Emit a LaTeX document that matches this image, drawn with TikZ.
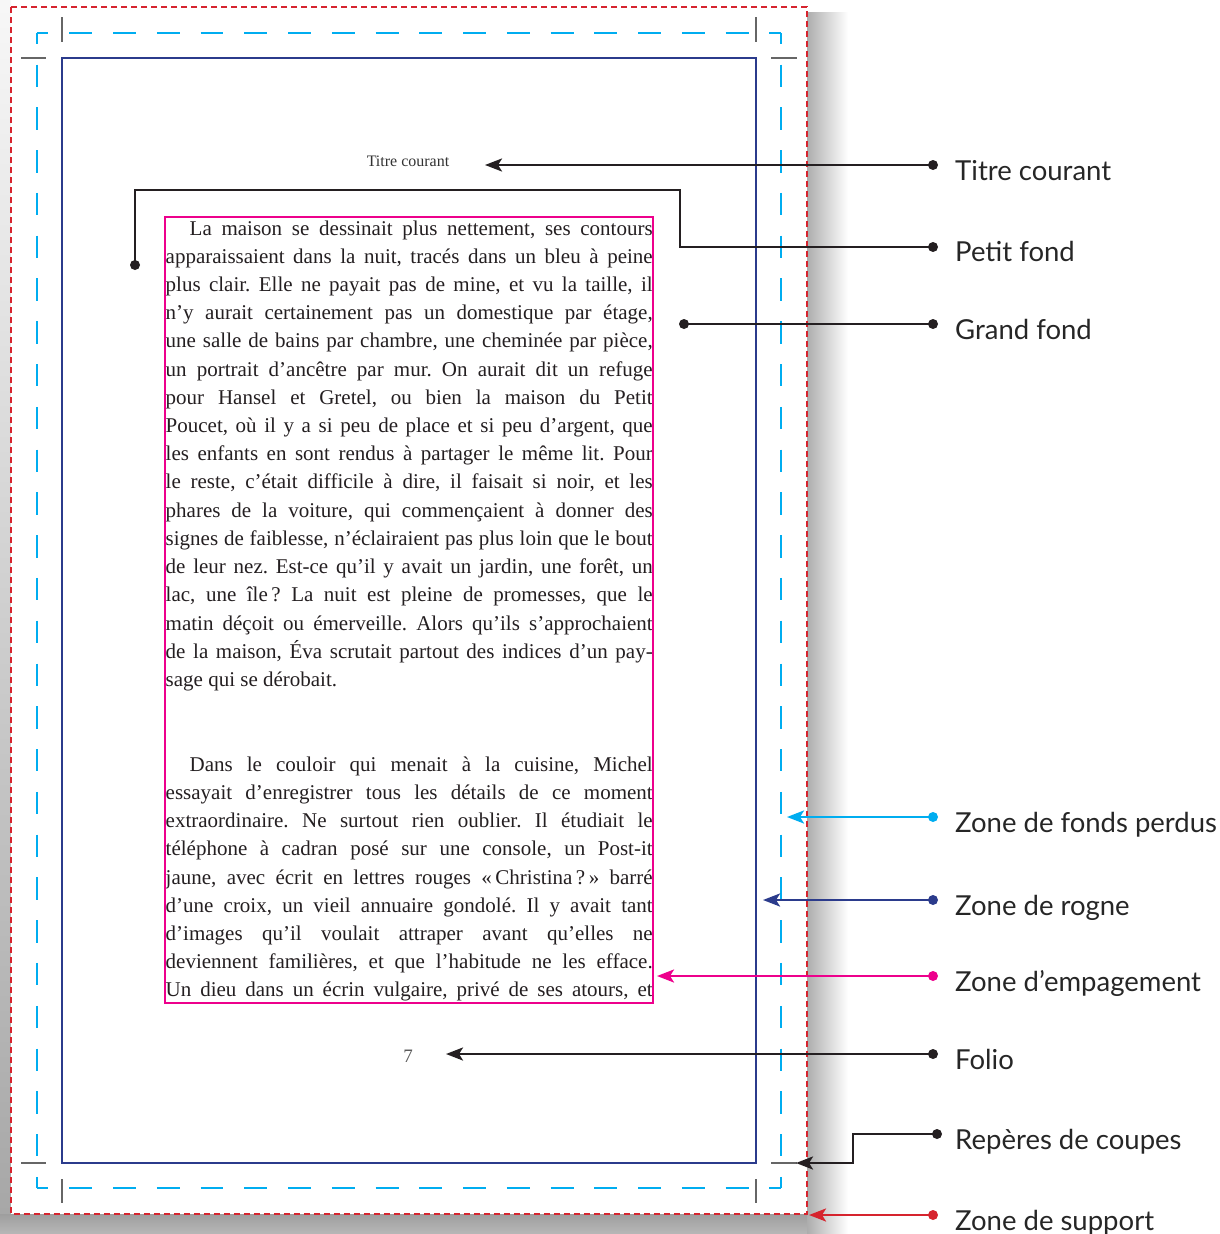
\documentclass[tikz,border=0pt]{standalone}
\usepackage{fontspec}
\setmainfont{Liberation Serif}
\newfontfamily\labelfont{Lato}
\usetikzlibrary{arrows.meta}
\definecolor{cyanperdu}{rgb}{0,0.68,0.94}
\definecolor{bleurogne}{rgb}{0.17,0.23,0.55}
\definecolor{magentaemp}{rgb}{0.93,0,0.55}
\definecolor{rougesupport}{rgb}{0.84,0.14,0.18}
\definecolor{noirtrait}{rgb}{0.14,0.12,0.13}
\definecolor{grisrepere}{rgb}{0.4,0.4,0.4}
\newcommand\jline[1]{\hbox to 487pt{\spaceskip=.25em plus 1fil minus .13em\relax #1}}
\newcommand\lline[1]{\hbox to 487pt{#1\hfil}}
\tikzset{
  trait/.style={line width=2.5pt,color=noirtrait},
  etiquette/.style={anchor=base west,inner sep=0pt,text=black!85,
    font=\labelfont\fontsize{27.5}{33}\selectfont},
  repere/.style={line width=1.3pt,color=grisrepere}
}
\begin{document}
\begin{tikzpicture}[line cap=butt,line join=miter,>={Stealth[length=17pt,width=13pt,inset=4pt]},x=1pt,y=-1pt]
\useasboundingbox (0,0) rectangle (1219,1234);
% ombre de la page
\shade[top color=black!3,bottom color=black!35] (0,0) rectangle (11,1234);
\shade[top color=black!38,bottom color=black!28] (0,1214) rectangle (830,1234);
\shade[left color=black!32,right color=white] (807,12) rectangle (848,1234);
% zone de support
\fill[white] (11,7) rectangle (807,1214);
\draw[rougesupport,line width=2pt,dash pattern=on 6pt off 4pt] (11,7) rectangle (807,1214);
% zone de fonds perdus
\draw[cyanperdu,line width=1.8pt,dash pattern=on 22.9pt off 20.86pt,dash phase=11.45pt] (37,33) -- (781,33);
\draw[cyanperdu,line width=1.8pt,dash pattern=on 22.9pt off 20.86pt,dash phase=11.45pt] (37,1188) -- (781,1188);
\draw[cyanperdu,line width=1.8pt,dash pattern=on 22.4pt off 20.38pt,dash phase=11.2pt] (37,33) -- (37,1188);
\draw[cyanperdu,line width=1.8pt,dash pattern=on 22.4pt off 20.38pt,dash phase=11.2pt] (781,33) -- (781,1188);
% reperes de coupe
\draw[repere] (62,17) -- (62,42);
\draw[repere] (21,58) -- (46,58);
\draw[repere] (756,17) -- (756,42);
\draw[repere] (771,58) -- (797,58);
\draw[repere] (21,1163) -- (46,1163);
\draw[repere] (62,1179) -- (62,1203);
\draw[repere] (771,1163) -- (797,1163);
\draw[repere] (756,1179) -- (756,1203);
% zone de rogne
\draw[bleurogne,line width=2pt] (62,58) rectangle (756,1163);
% texte courant
\node[anchor=base,inner sep=0pt,text=black!80,font=\fontsize{16}{19}\selectfont] (titre) at (408,166) {Titre courant};
\node[anchor=base west,inner sep=0pt,text=noirtrait,font=\fontsize{21}{28.22}\selectfont] (texte) at (165.5,235) {\vtop{\baselineskip=28.22pt\frenchspacing
\jline{\hskip24pt La maison se dessinait plus nettement, ses contours}
\jline{apparaissaient dans la nuit, tracés dans un bleu à peine}
\jline{plus clair. Elle ne payait pas de mine, et vu la taille, il}
\jline{n’y aurait certainement pas un domestique par étage,}
\jline{une salle de bains par chambre, une cheminée par pièce,}
\jline{un portrait d’ancêtre par mur. On aurait dit un refuge}
\jline{pour Hansel et Gretel, ou bien la maison du Petit}
\jline{Poucet, où il y a si peu de place et si peu d’argent, que}
\jline{les enfants en sont rendus à partager le même lit. Pour}
\jline{le reste, c’était difficile à dire, il faisait si noir, et les}
\jline{phares de la voiture, qui commençaient à donner des}
\jline{signes de faiblesse, n’éclairaient pas plus loin que le bout}
\jline{de leur nez. Est-ce qu’il y avait un jardin, une forêt, un}
\jline{lac, une île\,? La nuit est pleine de promesses, que le}
\jline{matin déçoit ou émerveille. Alors qu’ils s’approchaient}
\jline{de la maison, Éva scrutait partout des indices d’un pay-}
\lline{sage qui se dérobait.}
\vskip56.44pt
\jline{\hskip24pt Dans le couloir qui menait à la cuisine, Michel}
\jline{essayait d’enregistrer tous les détails de ce moment}
\jline{extraordinaire. Ne surtout rien oublier. Il étudiait le}
\jline{téléphone à cadran posé sur une console, un Post-it}
\jline{jaune, avec écrit en lettres rouges «\,Christina\,?\,» barré}
\jline{d’une croix, un vieil annuaire gondolé. Il y avait tant}
\jline{d’images qu’il voulait attraper avant qu’elles ne}
\jline{deviennent familières, et que l’habitude ne les efface.}
\jline{Un dieu dans un écrin vulgaire, privé de ses atours, et}}};
\node[anchor=base,inner sep=0pt,text=black!65,font=\fontsize{19}{22}\selectfont] (folio) at (408,1062) {7};
% zone d'empagement
\draw[magentaemp,line width=1.8pt] (165,217) rectangle (653,1003);
% legendes
\coordinate (pTitre) at (933,165);
\coordinate (aTitre) at (485,165);
\coordinate (pPetit) at (933,247);
\coordinate (cPetit) at (680,190);
\coordinate (aPetit) at (135,265);
\coordinate (pGrand) at (933,324);
\coordinate (aGrand) at (684,324);
\coordinate (pPerdus) at (933,817);
\coordinate (aPerdus) at (787,817);
\coordinate (pRogne) at (933,900);
\coordinate (aRogne) at (763,900);
\coordinate (pEmp) at (933,976);
\coordinate (aEmp) at (657,976);
\coordinate (pFolio) at (933,1054);
\coordinate (aFolio) at (446,1054);
\coordinate (pReperes) at (937,1134);
\coordinate (cReperes) at (853,1163);
\coordinate (aReperes) at (796,1163);
\coordinate (pSupport) at (933,1215);
\coordinate (aSupport) at (809,1215);
\draw[trait,->] (pTitre) -- (aTitre);
\draw[trait] (pPetit) -| (cPetit) -| (aPetit);
\draw[trait] (pGrand) -- (aGrand);
\draw[trait,color=cyanperdu,->] (pPerdus) -- (aPerdus);
\draw[trait,color=bleurogne,->] (pRogne) -- (aRogne);
\draw[trait,color=magentaemp,->] (pEmp) -- (aEmp);
\draw[trait,->] (pFolio) -- (aFolio);
\draw[trait,->] (pReperes) -| (cReperes) -- (aReperes);
\draw[trait,color=rougesupport,->] (pSupport) -- (aSupport);
\fill[noirtrait] (pTitre) circle (5pt);
\fill[noirtrait] (pPetit) circle (5pt);
\fill[noirtrait] (aPetit) circle (5pt);
\fill[noirtrait] (pGrand) circle (5pt);
\fill[noirtrait] (aGrand) circle (5pt);
\fill[cyanperdu] (pPerdus) circle (5pt);
\fill[bleurogne] (pRogne) circle (5pt);
\fill[magentaemp] (pEmp) circle (5pt);
\fill[noirtrait] (pFolio) circle (5pt);
\fill[noirtrait] (pReperes) circle (5pt);
\fill[rougesupport] (pSupport) circle (5pt);
\node[etiquette] (lTitre) at (955,180) {Titre courant};
\node[etiquette] (lPetit) at (955,261) {Petit fond};
\node[etiquette] (lGrand) at (955,339) {Grand fond};
\node[etiquette] (lPerdus) at (955,832) {Zone de fonds perdus};
\node[etiquette] (lRogne) at (955,915) {Zone de rogne};
\node[etiquette] (lEmp) at (955,991) {Zone d’empagement};
\node[etiquette] (lFolio) at (955,1069) {Folio};
\node[etiquette] (lReperes) at (955,1149) {Repères de coupes};
\node[etiquette] (lSupport) at (955,1230) {Zone de support};
\end{tikzpicture}
\end{document}
